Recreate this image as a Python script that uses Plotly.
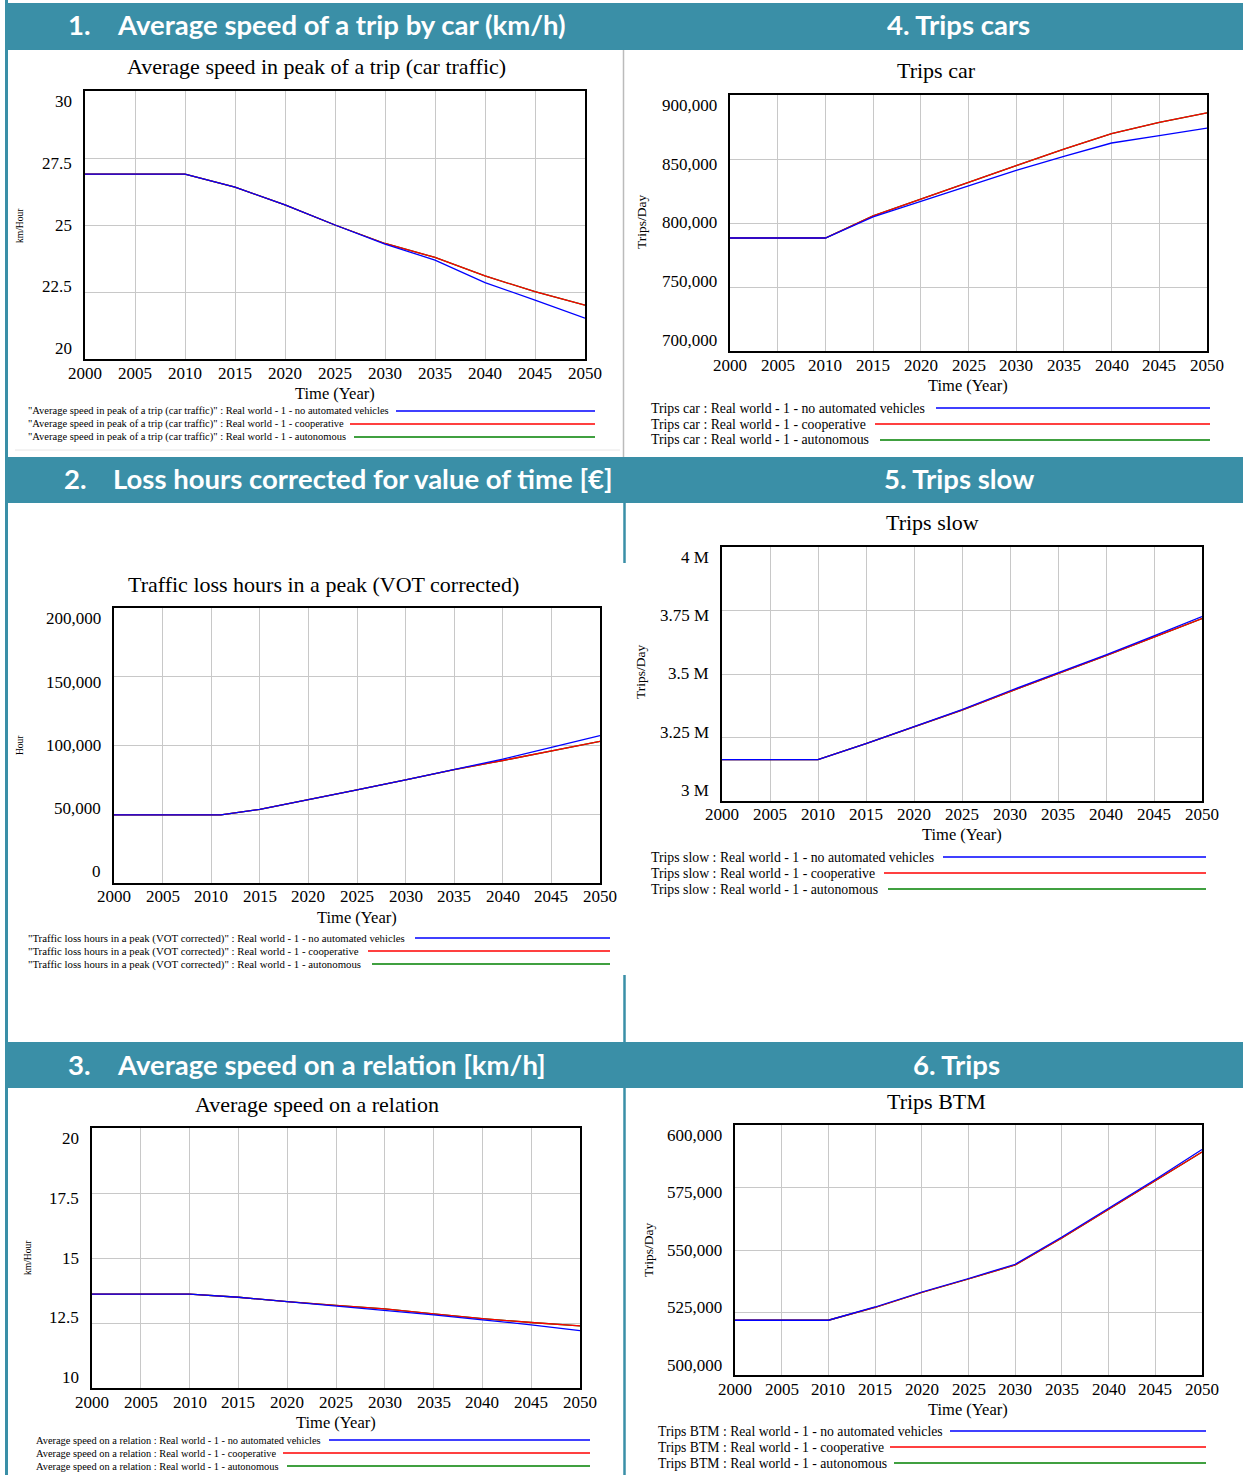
import plotly.graph_objects as go

W, H = 1243, 1475

# ---------------- data ----------------
years = [2000, 2010, 2015, 2020, 2025, 2030, 2035, 2040, 2045, 2050]
years_loss = [2000, 2011, 2015, 2020, 2025, 2030, 2035, 2040, 2045, 2050]
scenarios = ["no automated vehicles", "cooperative", "autonomous"]
x_ticks = [2000, 2005, 2010, 2015, 2020, 2025, 2030, 2035, 2040, 2045, 2050]
x_tick_labels = [str(v) for v in x_ticks]

# 1. Average speed in peak of a trip (car traffic) [km/Hour]
speed_peak_none = [26.9, 26.9, 26.41, 25.75, 25.0, 24.29, 23.69, 22.85, 22.2, 21.52]
speed_peak_coop = [26.9, 26.9, 26.41, 25.75, 25.0, 24.31, 23.79, 23.1, 22.51, 22.01]
speed_peak_auto = [26.9, 26.9, 26.41, 25.75, 25.0, 24.31, 23.79, 23.1, 22.51, 22.01]
speed_peak_ticks = [20, 22.5, 25, 27.5, 30]
speed_peak_tick_labels = ["20", "22.5", "25", "27.5", "30"]

# 4. Trips car [Trips/Day]
trips_car_none = [788300, 788300, 804700, 816900, 829100, 841100, 852000, 862500, 868200, 874200]
trips_car_coop = [788300, 788300, 805500, 818800, 831700, 844800, 857800, 869800, 878600, 886000]
trips_car_auto = [788300, 788300, 805500, 818800, 831700, 844800, 857800, 869800, 878600, 886000]
trips_car_ticks = [700000, 750000, 800000, 850000, 900000]
trips_car_tick_labels = ["700,000", "750,000", "800,000", "850,000", "900,000"]

# 2. Traffic loss hours in a peak (VOT corrected) [Hour]
loss_none = [49500, 49500, 53600, 60400, 67700, 75000, 82800, 90100, 98600, 107200]
loss_coop = [49500, 49500, 53600, 60400, 67700, 75000, 82500, 89100, 96200, 103000]
loss_auto = [49500, 49500, 53600, 60400, 67700, 75000, 82500, 89100, 96200, 103000]
loss_ticks = [0, 50000, 100000, 150000, 200000]
loss_tick_labels = ["0", "50,000", "100,000", "150,000", "200,000"]

# 5. Trips slow [Trips/Day]
trips_slow_none = [3163000, 3163000, 3226000, 3292000, 3360000, 3434000, 3503000, 3575000, 3650000, 3726000]
trips_slow_coop = [3163000, 3163000, 3226000, 3291000, 3358000, 3431000, 3500000, 3572000, 3645000, 3718000]
trips_slow_auto = [3163000, 3163000, 3226000, 3291000, 3358000, 3431000, 3500000, 3572000, 3645000, 3718000]
trips_slow_ticks = [3000000, 3250000, 3500000, 3750000, 4000000]
trips_slow_tick_labels = ["3 M", "3.25 M", "3.5 M", "3.75 M", "4 M"]

# 3. Average speed on a relation [km/Hour]
speed_rel_none = [13.61, 13.61, 13.49, 13.32, 13.17, 12.98, 12.81, 12.62, 12.43, 12.21]
speed_rel_coop = [13.61, 13.61, 13.49, 13.32, 13.18, 13.04, 12.85, 12.67, 12.52, 12.39]
speed_rel_auto = [13.61, 13.61, 13.49, 13.32, 13.18, 13.04, 12.85, 12.67, 12.52, 12.39]
speed_rel_ticks = [10, 12.5, 15, 17.5, 20]
speed_rel_tick_labels = ["10", "12.5", "15", "17.5", "20"]

# 6. Trips BTM [Trips/Day]
trips_btm_none = [521900, 521900, 527200, 533200, 538600, 544300, 555200, 566600, 578200, 590200]
trips_btm_coop = [521900, 521900, 527000, 533000, 538400, 544000, 554800, 566200, 577600, 589200]
trips_btm_auto = [521900, 521900, 527000, 533000, 538400, 544000, 554800, 566200, 577600, 589200]
trips_btm_ticks = [500000, 525000, 550000, 575000, 600000]
trips_btm_tick_labels = ["500,000", "525,000", "550,000", "575,000", "600,000"]

# ---------------- styling ----------------
TEAL = "#3A8FA7"
SERIF = "Liberation Serif"
HEAD_FONT = "Lato"
COLORS = {"no automated vehicles": "#0000FF", "cooperative": "#FF0000", "autonomous": "#008000"}
TICK_FONT = dict(family=SERIF, size=17, color="black")
SQUEEZE = 0.08  # Vensim draws outer y labels slightly inside the frame


def px(x):
    return x / W


def py(y):
    return 1 - y / H


panels = [
    dict(idx=1, x=years, series=[speed_peak_none, speed_peak_coop, speed_peak_auto],
         box=(85, 585, 91, 359), yr=(20, 30), ticks=speed_peak_ticks, tlabels=speed_peak_tick_labels,
         title="Average speed in peak of a trip (car traffic)", title_pos=(316, 67),
         ytitle="km/Hour", ytitle_pos=(20, 226), ytitle_size=9.5,
         time_pos=(335, 393),
         prefix="\"Average speed in peak of a trip (car traffic)\"",
         leg_x=26, leg_y=[411, 424, 437], leg_start=[396, 350, 354], leg_end=595, leg_size=10.5),
    dict(idx=2, x=years, series=[trips_car_none, trips_car_coop, trips_car_auto],
         box=(730, 1207, 95, 351), yr=(700000, 900000), ticks=trips_car_ticks, tlabels=trips_car_tick_labels,
         title="Trips car", title_pos=(937, 70),
         ytitle="Trips/Day", ytitle_pos=(642, 222), ytitle_size=13.5,
         time_pos=(968, 385),
         prefix="Trips car",
         leg_x=649, leg_y=[408, 424, 440], leg_start=[936, 875, 880], leg_end=1210, leg_size=13.8),
    dict(idx=3, x=years_loss, series=[loss_none, loss_coop, loss_auto],
         box=(114, 600, 608, 883), yr=(0, 200000), ticks=loss_ticks, tlabels=loss_tick_labels,
         title="Traffic loss hours in a peak (VOT corrected)", title_pos=(323, 584),
         ytitle="Hour", ytitle_pos=(20, 745), ytitle_size=9.5,
         time_pos=(357, 918),
         prefix="\"Traffic loss hours in a peak (VOT corrected)\"",
         leg_x=26, leg_y=[938, 951, 964], leg_start=[415, 368, 372], leg_end=610, leg_size=10.8),
    dict(idx=4, x=years, series=[trips_slow_none, trips_slow_coop, trips_slow_auto],
         box=(722, 1202, 547, 801), yr=(3000000, 4000000), ticks=trips_slow_ticks, tlabels=trips_slow_tick_labels,
         title="Trips slow", title_pos=(933, 522),
         ytitle="Trips/Day", ytitle_pos=(641, 672), ytitle_size=13.5,
         time_pos=(962, 835),
         prefix="Trips slow",
         leg_x=649, leg_y=[857, 873, 889], leg_start=[943, 884, 888], leg_end=1206, leg_size=13.8),
    dict(idx=5, x=years, series=[speed_rel_none, speed_rel_coop, speed_rel_auto],
         box=(92, 580, 1128, 1388), yr=(10, 20), ticks=speed_rel_ticks, tlabels=speed_rel_tick_labels,
         title="Average speed on a relation", title_pos=(317, 1104),
         ytitle="km/Hour", ytitle_pos=(28, 1258), ytitle_size=9.5,
         time_pos=(336, 1422),
         prefix="Average speed on a relation",
         leg_x=34, leg_y=[1440, 1453, 1466], leg_start=[329, 283, 287], leg_end=590, leg_size=10.4),
    dict(idx=6, x=years, series=[trips_btm_none, trips_btm_coop, trips_btm_auto],
         box=(735, 1202, 1125, 1375), yr=(500000, 600000), ticks=trips_btm_ticks, tlabels=trips_btm_tick_labels,
         title="Trips BTM", title_pos=(937, 1101),
         ytitle="Trips/Day", ytitle_pos=(648, 1250), ytitle_size=13.5,
         time_pos=(968, 1409),
         prefix="Trips BTM",
         leg_x=656, leg_y=[1431, 1447, 1463], leg_start=[950, 890, 894], leg_end=1206, leg_size=13.7),
]

fig = go.Figure()
shapes = []
annotations = []

# header bars
for (y0, y1) in [(3, 50), (457, 503), (1042, 1088)]:
    shapes.append(dict(type="rect", xref="paper", yref="paper", x0=px(5), x1=1, y0=py(y1), y1=py(y0),
                       fillcolor=TEAL, line=dict(width=0), layer="below"))

# border lines
shapes.append(dict(type="line", xref="paper", yref="paper", x0=px(6.5), x1=px(6.5), y0=0, y1=1,
                   line=dict(color=TEAL, width=3)))
for (y0, y1) in [(502, 563), (975, 1042), (1088, 1475)]:
    shapes.append(dict(type="line", xref="paper", yref="paper", x0=px(624.5), x1=px(624.5), y0=py(y1), y1=py(y0),
                       line=dict(color=TEAL, width=2.5)))
shapes.append(dict(type="line", xref="paper", yref="paper", x0=px(623.5), x1=px(623.5), y0=py(457), y1=py(50),
                   line=dict(color="#bbbbbb", width=1.5)))
shapes.append(dict(type="line", xref="paper", yref="paper", x0=px(15), x1=px(620), y0=py(450), y1=py(450),
                   line=dict(color="#e6e6e6", width=1)))

# header texts
hf = dict(family=HEAD_FONT, size=27.5, color="white")
head_items = [
    ("<b>1.</b>", 79, 25, "center"), ("<b>Average speed of a trip by car (km/h)</b>", 115, 25, "left"),
    ("<b>2.</b>", 75, 478, "center"), ("<b>Loss hours corrected for value of time [€]</b>", 111, 478, "left"),
    ("<b>3.</b>", 79, 1064, "center"), ("<b>Average speed on a relation [km/h]</b>", 115, 1064, "left"),
    ("<b>4. Trips cars</b>", 958, 25, "center"),
    ("<b>5. Trips slow</b>", 959, 478, "center"),
    ("<b>6. Trips</b>", 956, 1064, "center"),
]
for text, x, y, anc in head_items:
    annotations.append(dict(text=text, x=px(x), y=py(y), xref="paper", yref="paper", xanchor=anc,
                            yanchor="middle", showarrow=False, font=hf))

for p in panels:
    i = p["idx"]
    xa = "x" if i == 1 else f"x{i}"
    ya = "y" if i == 1 else f"y{i}"
    L, R, T, B = p["box"]
    for k in [2, 1, 0]:
        sc = scenarios[k]
        fig.add_trace(go.Scatter(x=p["x"], y=p["series"][k], mode="lines", xaxis=xa, yaxis=ya,
                                 line=dict(color=COLORS[sc], width=1.3), showlegend=False,
                                 name=sc))
    axis_common = dict(showline=True, linecolor="black", linewidth=2, mirror=True,
                       showgrid=True, gridcolor="#c8c8c8", gridwidth=1, zeroline=False,
                       automargin=False, ticks="", showticklabels=False)
    xkey = "xaxis" if i == 1 else f"xaxis{i}"
    ykey = "yaxis" if i == 1 else f"yaxis{i}"
    fig.update_layout({
        xkey: dict(domain=[px(L), px(R)], range=[2000, 2050], anchor=ya, tickvals=x_ticks, **axis_common),
        ykey: dict(domain=[py(B), py(T)], range=list(p["yr"]), anchor=xa, tickvals=p["ticks"], **axis_common),
    })
    # x tick labels (placed on the x scale)
    for v, lab in zip(x_ticks, x_tick_labels):
        annotations.append(dict(text=lab, x=v, xref=xa, y=py(B + 14), yref="paper", xanchor="center",
                                yanchor="middle", showarrow=False, font=TICK_FONT))
    # y tick labels (placed on the y scale, pulled slightly inward like Vensim)
    ymin, ymax = p["yr"]
    ph = B - T
    for v, lab in zip(p["ticks"], p["tlabels"]):
        f = (v - ymin) / (ymax - ymin)
        annotations.append(dict(text=lab, x=px(L), xref="paper", y=v, yref=ya, xanchor="right",
                                yanchor="middle", xshift=-11, yshift=-SQUEEZE * (f - 0.5) * ph,
                                showarrow=False, font=TICK_FONT))
    # title
    annotations.append(dict(text=p["title"], x=px(p["title_pos"][0]), y=py(p["title_pos"][1]),
                            xref="paper", yref="paper", xanchor="center", yanchor="middle", showarrow=False,
                            font=dict(family=SERIF, size=22, color="black")))
    # x title
    annotations.append(dict(text="Time (Year)", x=px(p["time_pos"][0]), y=py(p["time_pos"][1]),
                            xref="paper", yref="paper", xanchor="center", yanchor="middle", showarrow=False,
                            font=dict(family=SERIF, size=16.5, color="black")))
    # y title
    annotations.append(dict(text=p["ytitle"], x=px(p["ytitle_pos"][0]), y=py(p["ytitle_pos"][1]),
                            xref="paper", yref="paper", xanchor="center", yanchor="middle", showarrow=False,
                            textangle=-90, font=dict(family=SERIF, size=p["ytitle_size"], color="black")))
    # legend
    for k, sc in enumerate(scenarios):
        ly = p["leg_y"][k]
        annotations.append(dict(text=f"{p['prefix']} : Real world - 1 - {sc}", x=px(p["leg_x"]), y=py(ly),
                                xref="paper", yref="paper", xanchor="left", yanchor="middle", showarrow=False,
                                font=dict(family=SERIF, size=p["leg_size"], color="black")))
        shapes.append(dict(type="line", xref="paper", yref="paper", x0=px(p["leg_start"][k]),
                           x1=px(p["leg_end"]), y0=py(ly), y1=py(ly),
                           line=dict(color=COLORS[sc], width=1.3)))

fig.update_layout(template="none", width=W, height=H, margin=dict(l=0, r=0, t=0, b=0, pad=0),
                  autosize=False,
                  paper_bgcolor="white", plot_bgcolor="white", font=dict(family=SERIF),
                  shapes=shapes, annotations=annotations, showlegend=False)

fig.write_html("out.html", config={"displayModeBar": False, "responsive": False},
               post_script="document.body.style.margin='0';document.body.style.overflow='hidden';")
